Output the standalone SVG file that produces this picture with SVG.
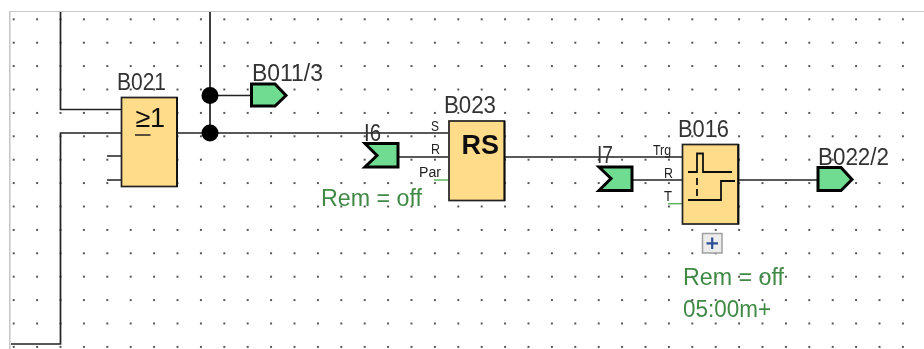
<svg xmlns="http://www.w3.org/2000/svg" width="924" height="349" viewBox="0 0 924 349">
<style>
.t{font-family:"Liberation Sans",Arial,sans-serif;font-size:23px;fill:#333}
.g{font-family:"Liberation Sans",Arial,sans-serif;font-size:23px;fill:#3f8a45}
.p{font-family:"Liberation Sans",Arial,sans-serif;font-size:14px;fill:#222}
.w{fill:none;stroke:#222;stroke-width:1.7}
.gw{fill:none;stroke:#5cb55c;stroke-width:1.5}
.b{fill:#ffdc8a;stroke:#222;stroke-width:1.7}
.e{fill:none;stroke:#111;stroke-width:1.8}
.f{fill:#70dc92;stroke:#000;stroke-width:3}
.big{font-family:"Liberation Sans",Arial,sans-serif;fill:#111}
</style>
<defs>
<pattern id="dots" patternUnits="userSpaceOnUse" x="2" y="7.6" width="23.4" height="23.4">
<rect x="10.8" y="10.8" width="1.8" height="1.8" fill="#333"/>
</pattern>
<filter id="soft" x="0" y="0" width="100%" height="100%" filterUnits="objectBoundingBox">
<feGaussianBlur stdDeviation="0.35"/>
</filter>
</defs>
<rect width="924" height="349" fill="#fff"/>
<g filter="url(#soft)">
<rect x="10" y="12" width="914" height="337" fill="url(#dots)"/>
<path d="M9.500 349V11H924" fill="none" stroke="#c8c8c8" stroke-width="2.200"/>
<g id="connectors">
<path class="w" d="M60.500 12V109.500H121"/>
<path class="w" d="M11 344H60.500V133H121"/>
<path class="w" d="M107 156H121M107 180H121"/>
<path class="w" d="M177 133H448"/>
<path class="w" d="M210 12V133M210 95.500H251"/>
<path class="w" d="M399 157H448"/>
<path class="gw" d="M434 180H448"/>
<path class="w" d="M505 157H682"/>
<path class="w" d="M633 180H682"/>
<path class="gw" d="M668 203.700H682"/>
<path class="w" d="M739 180H817"/>
<circle cx="210" cy="95.500" r="8.500" fill="#000"/>
<circle cx="210" cy="133" r="8.500" fill="#000"/>
</g>
<g id="B021">
<rect class="b" x="121.500" y="97.500" width="55.500" height="89"/>
<path class="e" d="M177 97V187"/>
<text class="t" x="117" y="90" textLength="49" lengthAdjust="spacingAndGlyphs">B021</text>
<text class="big" y="127" font-size="27"><tspan x="135.500">≥</tspan><tspan x="150">1</tspan></text>
<path d="M135 135H150.500" stroke="#222" stroke-width="1.500"/>
</g>
<g id="B011">
<path class="f" d="M251.500 84H275L286 95.500L275 106H251.500Z"/>
<text class="t" x="252" y="81" textLength="71" lengthAdjust="spacingAndGlyphs">B011/3</text>
</g>
<g id="I6">
<path class="f" d="M398 143.500V167H365L377 155.500L365 143.500Z"/>
<text class="t" x="364" y="141" textLength="17" lengthAdjust="spacingAndGlyphs">I6</text>
<text class="g" x="321" y="206" textLength="101" lengthAdjust="spacingAndGlyphs">Rem = off</text>
</g>
<g id="B023">
<rect class="b" x="449" y="121" width="55.500" height="79.500"/>
<path class="e" d="M504.500 121V201"/>
<text class="t" x="444" y="113" textLength="52" lengthAdjust="spacingAndGlyphs">B023</text>
<text class="big" x="461.500" y="154" font-size="27" font-weight="700">RS</text>
<text class="p" x="431" y="130.500" textLength="8" lengthAdjust="spacingAndGlyphs">S</text>
<text class="p" x="431" y="154" textLength="9" lengthAdjust="spacingAndGlyphs">R</text>
<text class="p" x="419" y="177" textLength="22" lengthAdjust="spacingAndGlyphs">Par</text>
</g>
<g id="I7">
<path class="f" d="M632 167V190.500H599L611 178.500L599 167Z"/>
<text class="t" x="597" y="163" textLength="16" lengthAdjust="spacingAndGlyphs">I7</text>
</g>
<g id="B016">
<rect class="b" x="682.500" y="144.500" width="55.500" height="79.500"/>
<path class="e" d="M738.500 144V224.500"/>
<text class="t" x="678" y="137" textLength="51" lengthAdjust="spacingAndGlyphs">B016</text>
<path class="e" d="M688 172H697V153.500H703V172H732M688 200H721V181H735"/>
<path class="e" stroke-dasharray="7 4" d="M697 178V200"/>
<text class="p" x="653" y="155" textLength="18" lengthAdjust="spacingAndGlyphs">Trg</text>
<text class="p" x="664" y="178" textLength="9" lengthAdjust="spacingAndGlyphs">R</text>
<text class="p" x="664" y="200.500" textLength="8" lengthAdjust="spacingAndGlyphs">T</text>
<rect x="702.500" y="233.500" width="19.500" height="19.500" fill="#ececec" stroke="#a0a0a0" stroke-width="1.500"/>
<path d="M712.200 237.500V249M706.500 243.300H718" stroke="#2c4f96" stroke-width="2.200"/>
<text class="g" x="683" y="285" textLength="101" lengthAdjust="spacingAndGlyphs">Rem = off</text>
<text class="g" x="683" y="317" textLength="88" lengthAdjust="spacingAndGlyphs">05:00m+</text>
</g>
<g id="B022">
<path class="f" d="M818 167.500H841L852 179.500L841 190.500H818Z"/>
<text class="t" x="818" y="165" textLength="71" lengthAdjust="spacingAndGlyphs">B022/2</text>
</g>
</g>
</svg>
